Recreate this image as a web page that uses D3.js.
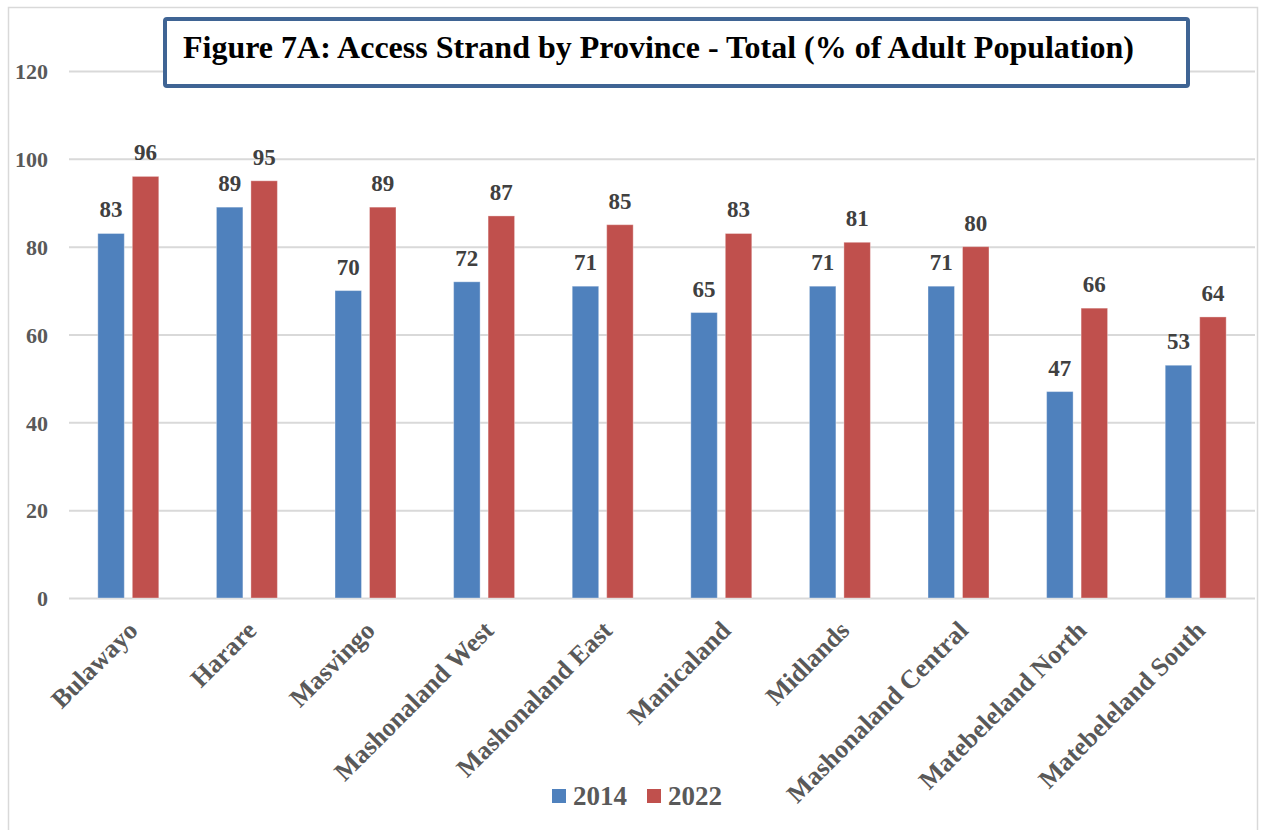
<!DOCTYPE html>
<html>
<head>
<meta charset="utf-8">
<script src="https://cdn.jsdelivr.net/npm/d3@7"></script>
<style>
  html, body { margin: 0; padding: 0; background: #fff; }
  svg { display: block; font-family: "Liberation Serif", "Times New Roman", serif; }
</style>
</head>
<body>
<svg id="chart" width="1264" height="830"></svg>
<script>
const provinces = ["Bulawayo", "Harare", "Masvingo", "Mashonaland West", "Mashonaland East",
  "Manicaland", "Midlands", "Mashonaland Central", "Matebeleland North", "Matebeleland South"];
const seriesNames = ["2014", "2022"];
const values2014 = [83, 89, 70, 72, 71, 65, 71, 71, 47, 53];
const values2022 = [96, 95, 89, 87, 85, 83, 81, 80, 66, 64];
const seriesColors = ["#4F81BD", "#C0504D"];
const yTicks = [0, 20, 40, 60, 80, 100, 120];
const titleText = "Figure 7A: Access Strand by Province - Total (% of Adult Population)";

const svg = d3.select("#chart");
svg.append("rect").attr("width", 1264).attr("height", 830).attr("fill", "#fff");
// outer chart border
svg.append("rect").attr("x", 8.5).attr("y", 7.5).attr("width", 1249).attr("height", 840)
  .attr("fill", "none").attr("stroke", "#d9d9d9").attr("stroke-width", 1.5);

const x0 = d3.scaleBand().domain(provinces).range([69, 1255]).paddingInner(0.486).paddingOuter(0.243);
const x1 = d3.scaleBand().domain(seriesNames).range([0, x0.bandwidth()]).paddingInner(0.232);
const y = d3.scaleLinear().domain([0, 120]).range([598, 71]);

// gridlines
const yAxis = d3.axisLeft(y).tickValues(yTicks).tickSize(-(1255 - 69)).tickFormat(d3.format("d"));
const gy = svg.append("g").attr("transform", "translate(69,0)").call(yAxis);
gy.select(".domain").remove();
gy.selectAll(".tick line").attr("stroke", "#d9d9d9").attr("stroke-width", 2);
gy.selectAll(".tick text").attr("x", -21).attr("dy", "0.35em")
  .attr("font-family", "Liberation Serif").attr("font-weight", "bold")
  .attr("font-size", 22).attr("fill", "#595959");

const data = provinces.map((p, i) => ({ p, vals: [values2014[i], values2022[i]] }));

const groups = svg.append("g").selectAll("g").data(data).join("g")
  .attr("transform", d => `translate(${x0(d.p)},0)`);

groups.selectAll("rect").data(d => d.vals.map((v, k) => ({ k, v }))).join("rect")
  .attr("x", d => x1(seriesNames[d.k]))
  .attr("width", x1.bandwidth())
  .attr("y", d => y(d.v))
  .attr("height", d => y(0) - y(d.v))
  .attr("fill", d => seriesColors[d.k])
  .attr("stroke", "rgba(255,255,255,0.35)").attr("stroke-width", 1);

groups.selectAll("text").data(d => d.vals.map((v, k) => ({ k, v }))).join("text")
  .attr("x", d => x1(seriesNames[d.k]) + x1.bandwidth() / 2)
  .attr("y", d => y(d.v) - 16)
  .attr("text-anchor", "middle")
  .attr("font-weight", "bold").attr("font-size", 23).attr("fill", "#404040")
  .text(d => d.v);

// x category labels
svg.append("g").selectAll("text").data(provinces).join("text")
  .attr("transform", d => `translate(${x0(d) + x0.bandwidth() / 2 + 11},632) rotate(-45)`)
  .attr("text-anchor", "end")
  .attr("font-weight", "bold").attr("font-size", 26).attr("fill", "#595959")
  .text(d => d);

// title box
svg.append("rect").attr("x", 165).attr("y", 19).attr("width", 1023).attr("height", 67).attr("rx", 2)
  .attr("fill", "#fff").attr("stroke", "#3F6494").attr("stroke-width", 4);
svg.append("text").attr("x", 183).attr("y", 58)
  .attr("font-weight", "bold").attr("font-size", 32).attr("fill", "#000")
  .text(titleText);

// legend
const legendX = [552, 647];
const lg = svg.append("g").selectAll("g").data(seriesNames).join("g");
lg.append("rect").attr("x", (d, i) => legendX[i]).attr("y", 789).attr("width", 14).attr("height", 14)
  .attr("fill", (d, i) => seriesColors[i]);
lg.append("text").attr("x", (d, i) => legendX[i] + 21).attr("y", 805)
  .attr("font-weight", "bold").attr("font-size", 27).attr("fill", "#595959")
  .text(d => d);
</script>
</body>
</html>
